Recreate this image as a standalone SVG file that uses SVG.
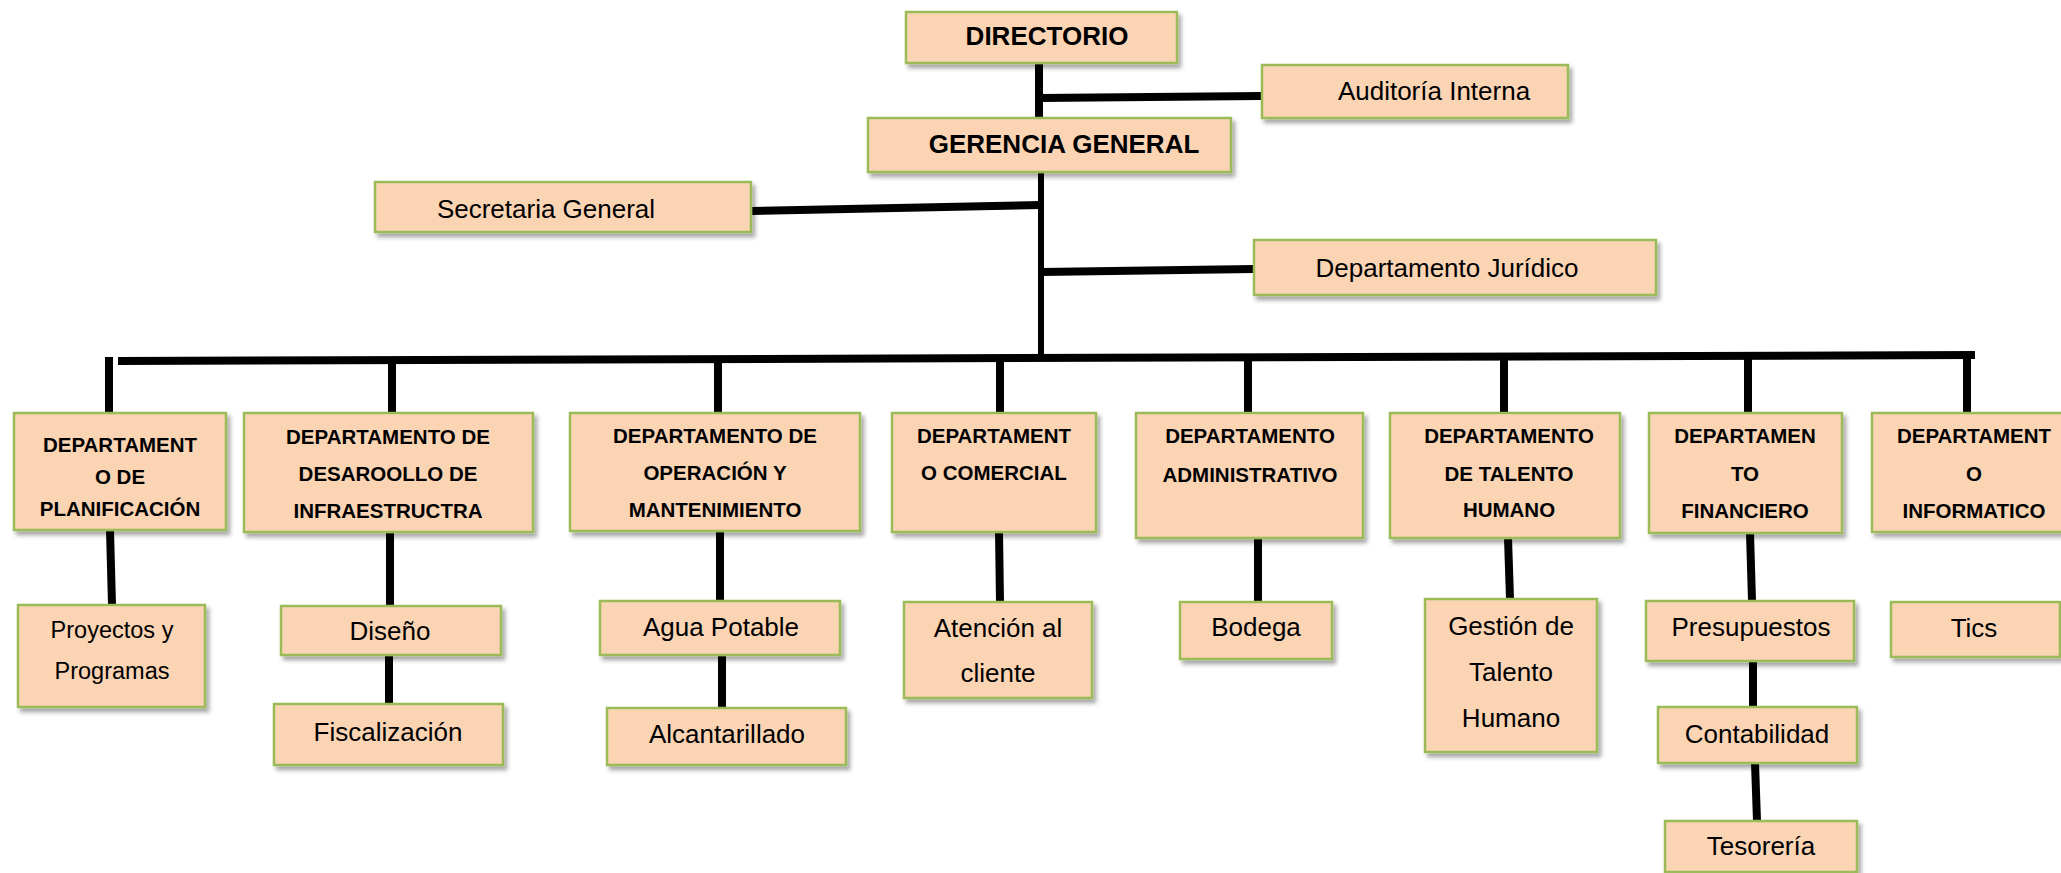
<svg xmlns="http://www.w3.org/2000/svg" width="2061" height="873" viewBox="0 0 2061 873">
<style>
.b{fill:#FBD4B4;stroke:#9BBB59;stroke-width:2.5;filter:url(#sh)}
.t{font-family:"Liberation Sans",Arial,sans-serif;font-size:26px;fill:#000;text-anchor:middle}
.bd{font-weight:bold}
.d{font-family:"Liberation Sans",Arial,sans-serif;font-size:20.5px;font-weight:bold;fill:#000;text-anchor:middle}
.c line{stroke:#000;stroke-width:8;stroke-linecap:butt}
</style>
<defs>
<filter id="sh" x="-10%" y="-10%" width="130%" height="140%">
<feDropShadow dx="3" dy="4" stdDeviation="2" flood-color="#000" flood-opacity="0.35"/>
</filter>
</defs>
<rect width="2061" height="873" fill="#fff"/>
<g class="c" id="connectors">
<line x1="1039" y1="63" x2="1039" y2="118"/>
<line x1="1039" y1="98" x2="1262" y2="96"/>
<line x1="1041" y1="172" x2="1041" y2="358" style="stroke-width:6"/>
<line x1="752" y1="211" x2="1041" y2="205"/>
<line x1="1041" y1="272" x2="1254" y2="269"/>
<line x1="118" y1="361" x2="1975" y2="355"/>
<line x1="109" y1="357" x2="109" y2="413"/>
<line x1="392" y1="358" x2="392" y2="413"/>
<line x1="718" y1="358" x2="718" y2="413"/>
<line x1="1000" y1="358" x2="1000" y2="413"/>
<line x1="1248" y1="357" x2="1248" y2="413"/>
<line x1="1504" y1="357" x2="1504" y2="413"/>
<line x1="1748" y1="356" x2="1748" y2="413"/>
<line x1="1967" y1="352" x2="1967" y2="413"/>
<line x1="110" y1="530" x2="112" y2="605"/>
<line x1="390" y1="532" x2="390" y2="606"/>
<line x1="720" y1="531" x2="720" y2="601"/>
<line x1="999" y1="532" x2="1000" y2="602"/>
<line x1="1258" y1="538" x2="1258" y2="602"/>
<line x1="1508" y1="538" x2="1510" y2="599"/>
<line x1="1750" y1="533" x2="1752" y2="601"/>
<line x1="389" y1="655" x2="389" y2="704"/>
<line x1="722" y1="655" x2="722" y2="708"/>
<line x1="1753" y1="661" x2="1753" y2="707"/>
<line x1="1755" y1="763" x2="1757" y2="821"/>
</g>
<g id="directorio"><rect class="b" x="906" y="12" width="271" height="51"/><text class="t bd" x="1047" y="45">DIRECTORIO</text></g>
<g id="auditoria"><rect class="b" x="1262" y="65" width="306" height="53"/><text class="t" x="1434" y="100">Auditoría Interna</text></g>
<g id="gerencia"><rect class="b" x="868" y="118" width="363" height="54"/><text class="t bd" x="1064" y="153">GERENCIA GENERAL</text></g>
<g id="secretaria"><rect class="b" x="375" y="182" width="376" height="50"/><text class="t" x="546" y="218">Secretaria General</text></g>
<g id="juridico"><rect class="b" x="1254" y="240" width="402" height="55"/><text class="t" x="1447" y="277">Departamento Jurídico</text></g>
<g id="planificacion"><rect class="b" x="14" y="413" width="212" height="117"/><text class="d" x="120" y="452">DEPARTAMENT</text><text class="d" x="120" y="484">O DE</text><text class="d" x="120" y="516">PLANIFICACIÓN</text></g>
<g id="desarrollo"><rect class="b" x="244" y="413" width="289" height="119"/><text class="d" x="388" y="444">DEPARTAMENTO DE</text><text class="d" x="388" y="481">DESAROOLLO DE</text><text class="d" x="388" y="518">INFRAESTRUCTRA</text></g>
<g id="operacion"><rect class="b" x="570" y="413" width="290" height="118"/><text class="d" x="715" y="443">DEPARTAMENTO DE</text><text class="d" x="715" y="480">OPERACIÓN Y</text><text class="d" x="715" y="517">MANTENIMIENTO</text></g>
<g id="comercial"><rect class="b" x="892" y="413" width="204" height="119"/><text class="d" x="994" y="443">DEPARTAMENT</text><text class="d" x="994" y="480">O COMERCIAL</text></g>
<g id="administrativo"><rect class="b" x="1136" y="413" width="227" height="125"/><text class="d" x="1250" y="443">DEPARTAMENTO</text><text class="d" x="1250" y="482">ADMINISTRATIVO</text></g>
<g id="talento"><rect class="b" x="1390" y="413" width="230" height="125"/><text class="d" x="1509" y="443">DEPARTAMENTO</text><text class="d" x="1509" y="481">DE TALENTO</text><text class="d" x="1509" y="517">HUMANO</text></g>
<g id="financiero"><rect class="b" x="1649" y="413" width="193" height="120"/><text class="d" x="1745" y="443">DEPARTAMEN</text><text class="d" x="1745" y="481">TO</text><text class="d" x="1745" y="518">FINANCIERO</text></g>
<g id="informatico"><rect class="b" x="1872" y="413" width="194" height="119"/><text class="d" x="1974" y="443">DEPARTAMENT</text><text class="d" x="1974" y="481">O</text><text class="d" x="1974" y="518">INFORMATICO</text></g>
<g id="proyectos"><rect class="b" x="18" y="605" width="187" height="102"/><text class="t" style="font-size:23.5px" x="112" y="638">Proyectos y</text><text class="t" style="font-size:23.5px" x="112" y="679">Programas</text></g>
<g id="diseno"><rect class="b" x="281" y="606" width="220" height="49"/><text class="t" x="390" y="640">Diseño</text></g>
<g id="fiscalizacion"><rect class="b" x="274" y="704" width="229" height="61"/><text class="t" x="388" y="741">Fiscalización</text></g>
<g id="agua"><rect class="b" x="600" y="601" width="240" height="54"/><text class="t" x="721" y="636">Agua Potable</text></g>
<g id="alcantarillado"><rect class="b" x="607" y="708" width="239" height="57"/><text class="t" x="727" y="743">Alcantarillado</text></g>
<g id="atencion"><rect class="b" x="904" y="602" width="188" height="96"/><text class="t" x="998" y="637">Atención al</text><text class="t" x="998" y="682">cliente</text></g>
<g id="bodega"><rect class="b" x="1180" y="602" width="152" height="57"/><text class="t" x="1256" y="636">Bodega</text></g>
<g id="gestion"><rect class="b" x="1425" y="599" width="172" height="153"/><text class="t" x="1511" y="635">Gestión de</text><text class="t" x="1511" y="681">Talento</text><text class="t" x="1511" y="727">Humano</text></g>
<g id="presupuestos"><rect class="b" x="1646" y="601" width="208" height="60"/><text class="t" x="1751" y="636">Presupuestos</text></g>
<g id="contabilidad"><rect class="b" x="1658" y="707" width="199" height="56"/><text class="t" x="1757" y="743">Contabilidad</text></g>
<g id="tesoreria"><rect class="b" x="1665" y="821" width="192" height="51"/><text class="t" x="1761" y="855">Tesorería</text></g>
<g id="tics"><rect class="b" x="1891" y="602" width="169" height="55"/><text class="t" x="1974" y="637">Tics</text></g>
</svg>
